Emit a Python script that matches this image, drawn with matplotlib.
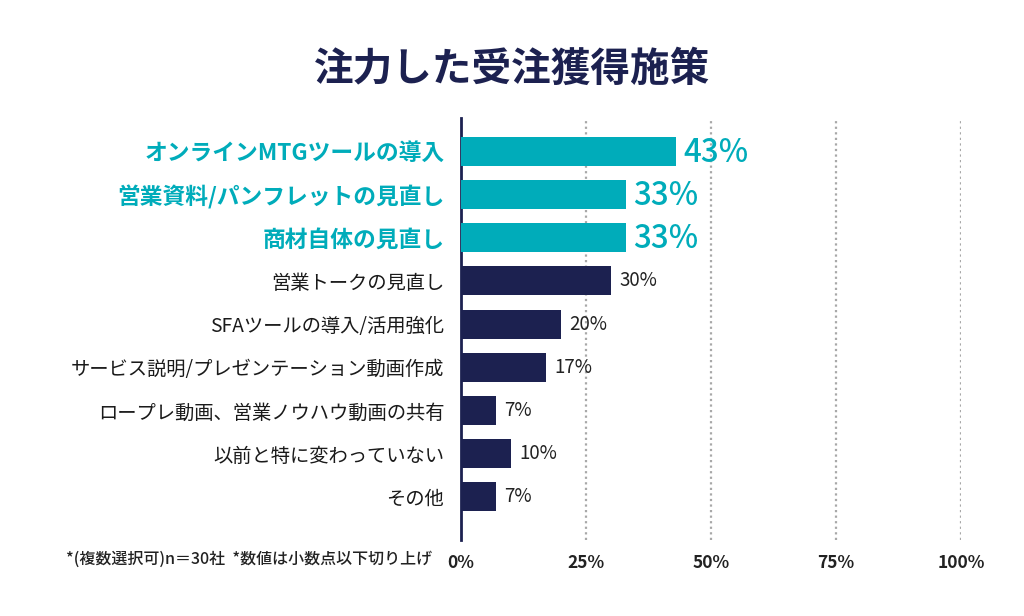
import matplotlib
matplotlib.use("Agg")
import matplotlib.pyplot as plt

plt.rcParams['font.family'] = ['Noto Sans CJK JP', 'DejaVu Sans']

# data
labels = [
    "オンラインMTGツールの導入",
    "営業資料/パンフレットの見直し",
    "商材自体の見直し",
    "営業トークの見直し",
    "SFAツールの導入/活用強化",
    "サービス説明/プレゼンテーション動画作成",
    "ロープレ動画、営業ノウハウ動画の共有",
    "以前と特に変わっていない",
    "その他",
]
values = [43, 33, 33, 30, 20, 17, 7, 10, 7]
highlight = [True, True, True, False, False, False, False, False, False]
ticks = [0, 25, 50, 75, 100]
tick_labels = ["0%", "25%", "50%", "75%", "100%"]

teal = "#00ACBA"
navy = "#1C2150"

fig = plt.figure(figsize=(10.24, 6.16), dpi=100)
ax = fig.add_axes([461 / 1024, 76 / 616, 500 / 1024, 422 / 616])

ypos = list(range(len(values)))
colors = [teal if h else navy for h in highlight]
ax.barh(ypos, values, height=0.67, color=colors, zorder=3)

# dotted grid lines
for t in ticks[1:]:
    ax.axvline(t, color="#a8a8a8", lw=1.6, ls=(0, (1, 1.5)), zorder=1)

ax.set_xlim(0, 100)
ax.set_ylim(9.0, -0.77)

# value labels
for y, v, h in zip(ypos, values, highlight):
    if h:
        ax.text(v + 1.4, y + 0.04, f"{v}%", color=teal, fontsize=22.5,
                fontweight="medium", va="center", ha="left")
    else:
        ax.text(v + 1.6, y, f"{v}%", color="#222222", fontsize=13.5,
                va="center", ha="left")

# category labels
ax.set_yticks(ypos)
ax.set_yticklabels(labels)
for lbl, h in zip(ax.get_yticklabels(), highlight):
    if h:
        lbl.set_color(teal)
        lbl.set_fontsize(16.4)
        lbl.set_fontweight("bold")
    else:
        lbl.set_color("#1a1a1a")
        lbl.set_fontsize(13.9)
ax.tick_params(axis="y", length=0, pad=12)

ax.set_xticks(ticks)
ax.set_xticklabels(tick_labels, fontsize=12.5, fontweight="bold", color="#222222")
ax.tick_params(axis="x", length=0, pad=10)

for s in ["top", "right", "bottom"]:
    ax.spines[s].set_visible(False)
ax.spines["left"].set_color(navy)
ax.spines["left"].set_linewidth(2)

fig.text(0.5, 0.888, "注力した受注獲得施策", ha="center", va="center",
         fontsize=28.5, fontweight="bold", color=navy)
fig.text(432 / 1024, 1 - 559 / 616,
         "*(複数選択可)n＝30社  *数値は小数点以下切り上げ",
         ha="right", va="center", fontsize=11.5, fontweight="medium",
         color="#222222")

fig.savefig("out.png", dpi=100, facecolor="white")
